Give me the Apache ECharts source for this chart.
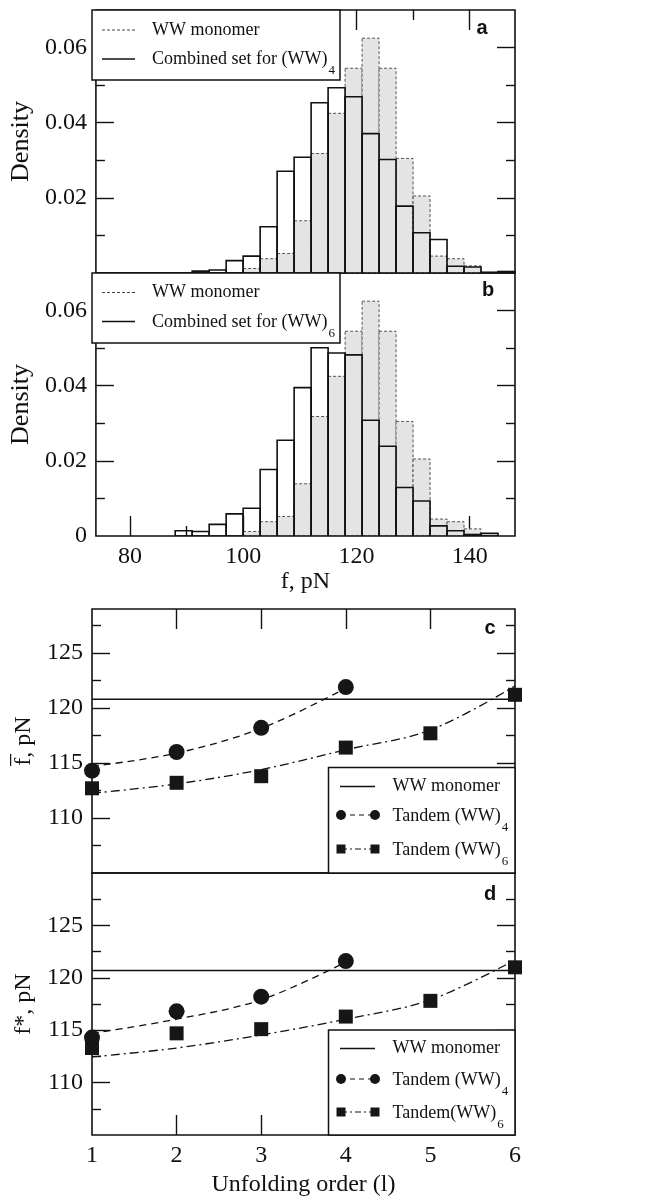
<!DOCTYPE html>
<html><head><meta charset="utf-8">
<script src="https://cdn.jsdelivr.net/npm/echarts@6/dist/echarts.min.js"></script>
<style>html,body{margin:0;padding:0;background:#fff}#main{width:650px;height:1201px}</style>
</head><body><div id="main"></div>
<script>
// ---------- data ----------
const binEdges = [88, 91, 94, 97, 100, 103, 106, 109, 112, 115, 118, 121, 124, 127, 130, 133, 136, 139, 142, 145, 148];
const monomerDensity = [0, 0, 0, 0, 0.0012, 0.0038, 0.0052, 0.0139, 0.0318, 0.0425, 0.0545, 0.0625, 0.0545, 0.0305, 0.0205, 0.0045, 0.0038, 0.0019, 0, 0];
const combinedWW4Density = [0, 0.0005, 0.0008, 0.0033, 0.0045, 0.0123, 0.0271, 0.0308, 0.0453, 0.0493, 0.0469, 0.0371, 0.0302, 0.0178, 0.0107, 0.0089, 0.0018, 0.0016, 0.0002, 0.0004];
const combinedWW6Density = [0.0014, 0.0012, 0.0031, 0.0059, 0.0074, 0.0177, 0.0255, 0.0395, 0.0501, 0.0487, 0.0482, 0.0308, 0.0239, 0.0129, 0.0093, 0.0027, 0.0014, 0.0004, 0.0007, 0];

const forceRange = [74, 148];
const densityRange = [0, 0.07];
const forceTicks = [80, 100, 120, 140];
const forceMinorTicks = [90, 110, 130];
const densityTicks = [0.02, 0.04, 0.06];
const densityLabelsB = [0, 0.02, 0.04, 0.06];
const densityMinorTicks = [0.01, 0.03, 0.05];

const unfoldingOrder = [1, 2, 3, 4, 5, 6];
const orderInnerTicks = [2, 3, 4, 5];
const meanRange = [105, 129];
const peakRange = [105, 130];
const pnTicks = [110, 115, 120, 125];
const pnMinorTicks = [107.5, 112.5, 117.5, 122.5, 127.5];

const meanMonomer = 120.8;
const meanWW4 = [114.3, 116.0, 118.2, 121.9];
const meanWW6 = [112.7, 113.2, 113.8, 116.4, 117.7, 121.2];
const meanFitWW4 = [114.7, 115.9, 118.15, 121.8];
const meanFitWW6 = [112.25, 113.1, 114.4, 116.2, 118.0, 122.0];

const peakMonomer = 120.7;
const peakWW4 = [114.3, 116.8, 118.2, 121.6];
const peakWW6 = [113.3, 114.7, 115.1, 116.3, 117.8, 121.0];
const peakFitWW4 = [114.7, 116.05, 117.9, 121.5];
const peakFitWW6 = [112.45, 113.3, 114.55, 116.05, 117.9, 121.7];

// ---------- helpers ----------
const serif = '"Liberation Serif", "Times New Roman", serif';
const sans = '"Liberation Sans", Arial, sans-serif';
const ink = '#111';

function toBins(vals) { return vals.map((v, i) => [binEdges[i], binEdges[i + 1], v]); }
function toXY(xs, ys) { return ys.map((y, i) => [xs[i], y]); }

function ax(grid, pos, range, ticks, len, labels, extra) {
  const o = {
    type: 'value', gridIndex: grid, position: pos, min: range[0], max: range[1],
    axisLine: { show: false, onZero: false },
    splitLine: { show: false },
    axisTick: ticks ? { show: true, inside: true, length: len, customValues: ticks, lineStyle: { color: ink, width: 1.4 } } : { show: false },
    axisLabel: labels ? { show: true, customValues: labels, fontFamily: serif, fontSize: 24, color: ink, margin: 9 } : { show: false }
  };
  return Object.assign(o, extra || {});
}
const xAxes = [], yAxes = [];
function addX(o) { xAxes.push(o); return xAxes.length - 1; }
function addY(o) { yAxes.push(o); return yAxes.length - 1; }

function yName(text, gap, size) {
  return { name: text, nameLocation: 'middle', nameGap: gap, nameRotate: 90,
    nameTextStyle: { fontFamily: serif, fontSize: size, color: ink } };
}
function xName(text, gap) {
  return { name: text, nameLocation: 'middle', nameGap: gap,
    nameTextStyle: { fontFamily: serif, fontSize: 24, color: ink } };
}

// ---------- grids ----------
const grids = [
  { left: 92, top: 10, width: 423, height: 263 },
  { left: 92, top: 273, width: 423, height: 263 },
  { left: 92, top: 609, width: 423, height: 264 },
  { left: 92, top: 873, width: 423, height: 262 }
].map(g => Object.assign(g, { show: true, borderColor: ink, borderWidth: 1.6, backgroundColor: 'transparent' }));

// panel a
const xa = addX(ax(0, 'bottom', forceRange, null));
addX(ax(0, 'top', forceRange, forceTicks, 20));
addX(ax(0, 'top', forceRange, forceMinorTicks, 10));
const ya = addY(ax(0, 'left', densityRange, densityTicks, 18, densityTicks, yName('Density', 53, 26)));
addY(ax(0, 'left', densityRange, densityMinorTicks, 9));
addY(ax(0, 'right', densityRange, densityTicks, 18));
addY(ax(0, 'right', densityRange, densityMinorTicks, 9));
// panel b
const xb = addX(ax(1, 'bottom', forceRange, forceTicks, 20, forceTicks, xName('f, pN', 34)));
addX(ax(1, 'bottom', forceRange, forceMinorTicks, 10));
const yb = addY(ax(1, 'left', densityRange, densityTicks, 18, densityLabelsB, yName('Density', 53, 26)));
addY(ax(1, 'left', densityRange, densityMinorTicks, 9));
addY(ax(1, 'right', densityRange, densityTicks, 18));
addY(ax(1, 'right', densityRange, densityMinorTicks, 9));
// panel c
const xc = addX(ax(2, 'bottom', [1, 6], null));
addX(ax(2, 'top', [1, 6], orderInnerTicks, 20));
const yc = addY(ax(2, 'left', meanRange, pnTicks, 18, pnTicks, yName('f\u0305, pN', 47, 24)));
addY(ax(2, 'left', meanRange, pnMinorTicks, 9));
addY(ax(2, 'right', meanRange, pnTicks, 18));
addY(ax(2, 'right', meanRange, pnMinorTicks, 9));
// panel d
const xd = addX(ax(3, 'bottom', [1, 6], orderInnerTicks, 20, unfoldingOrder, xName('Unfolding order (l)', 38)));
const yd = addY(ax(3, 'left', peakRange, pnTicks, 18, pnTicks, yName('f*, pN', 47, 24)));
addY(ax(3, 'left', peakRange, pnMinorTicks, 9));
addY(ax(3, 'right', peakRange, pnTicks, 18));
addY(ax(3, 'right', peakRange, pnMinorTicks, 9));

// ---------- series ----------
function histRender(style) {
  return function (params, api) {
    const h = api.value(2);
    if (!h) return null;
    const tl = api.coord([api.value(0), h]);
    const br = api.coord([api.value(1), 0]);
    return { type: 'rect', shape: { x: tl[0], y: tl[1], width: br[0] - tl[0], height: br[1] - tl[1] }, style: style };
  };
}
const monoStyle = { fill: '#e4e4e4', stroke: '#555', lineWidth: 1, lineDash: [3, 2] };
const combStyle = { fill: 'none', stroke: ink, lineWidth: 1.6 };
function hist(xi, yi, vals, style, z) {
  return { type: 'custom', xAxisIndex: xi, yAxisIndex: yi, renderItem: histRender(style),
    data: toBins(vals), encode: { x: [0, 1], y: 2 }, clip: true, z: z, silent: true };
}
function hline(xi, yi, v) {
  return { type: 'line', xAxisIndex: xi, yAxisIndex: yi, symbol: 'none', silent: true, z: 3,
    data: [[unfoldingOrder[0], v], [unfoldingOrder[unfoldingOrder.length - 1], v]],
    lineStyle: { color: ink, width: 1.4 } };
}
function fit(xi, yi, ys, dash) {
  return { type: 'line', xAxisIndex: xi, yAxisIndex: yi, symbol: 'none', smooth: 0.35, silent: true, z: 3,
    data: toXY(unfoldingOrder, ys), lineStyle: { color: ink, width: 1.3, type: dash } };
}
function pts(xi, yi, ys, sym, size) {
  return { type: 'scatter', xAxisIndex: xi, yAxisIndex: yi, symbol: sym, symbolSize: size, silent: true, z: 4,
    data: toXY(unfoldingOrder, ys), itemStyle: { color: '#161616', opacity: 1 } };
}
const dashA = [7, 5];
const dashDot = [9, 4, 2, 4];

const series = [
  hist(xa, ya, monomerDensity, monoStyle, 2),
  hist(xa, ya, combinedWW4Density, combStyle, 3),
  hist(xb, yb, monomerDensity, monoStyle, 2),
  hist(xb, yb, combinedWW6Density, combStyle, 3),
  hline(xc, yc, meanMonomer),
  fit(xc, yc, meanFitWW4, dashA),
  fit(xc, yc, meanFitWW6, dashDot),
  pts(xc, yc, meanWW4, 'circle', 16),
  pts(xc, yc, meanWW6, 'rect', 14),
  hline(xd, yd, peakMonomer),
  fit(xd, yd, peakFitWW4, dashA),
  fit(xd, yd, peakFitWW6, dashDot),
  pts(xd, yd, peakWW4, 'circle', 16),
  pts(xd, yd, peakWW6, 'rect', 14)
];

// ---------- legends & panel letters ----------
const Z = 100;
const lgFont = '18px ' + serif;
const rich = {
  n: { fontFamily: serif, fontSize: 18, lineHeight: 20, verticalAlign: 'top', fill: ink },
  s: { fontFamily: serif, fontSize: 13, lineHeight: 13, padding: [14, 0, 0, 1], verticalAlign: 'top', fill: ink }
};
function box(x, y, w, h) { return { type: 'rect', z: Z, shape: { x, y, width: w, height: h }, style: { fill: '#fff', stroke: ink, lineWidth: 1.5 } }; }
function seg(x1, x2, y, style) { return { type: 'line', z: Z + 1, shape: { x1, y1: y, x2, y2: y }, style: Object.assign({ stroke: ink, lineWidth: 1.4 }, style) }; }
function txt(x, y, t) { return { type: 'text', z: Z + 1, style: { x, y, text: t, font: lgFont, fill: ink, verticalAlign: 'middle' } }; }
function rtxt(x, y, t) { return { type: 'text', z: Z + 1, style: { x, y, text: t, rich: rich, fill: ink, verticalAlign: 'middle' } }; }
function dot(x, y) { return { type: 'circle', z: Z + 2, shape: { cx: x, cy: y, r: 5 }, style: { fill: '#161616' } }; }
function sq(x, y) { return { type: 'rect', z: Z + 2, shape: { x: x - 4.5, y: y - 4.5, width: 9, height: 9 }, style: { fill: '#161616' } }; }
function letter(x, y, t) { return { type: 'text', z: Z, style: { x, y, text: t, font: 'bold 20px ' + sans, fill: ink, align: 'center', verticalAlign: 'middle' } }; }

const graphic = [
  // a
  box(92, 10, 248, 70),
  seg(102, 135, 30, { stroke: '#444', lineWidth: 1, lineDash: [3, 2] }),
  txt(152, 30, 'WW monomer'),
  seg(102, 135, 59, { lineWidth: 1.6 }),
  rtxt(152, 60, '{n|Combined set for (WW)}{s|4}'),
  letter(482, 28, 'a'),
  // b
  box(92, 273, 248, 70),
  seg(102, 135, 292.5, { stroke: '#444', lineWidth: 1, lineDash: [3, 2] }),
  txt(152, 292.5, 'WW monomer'),
  seg(102, 135, 321.5, { lineWidth: 1.6 }),
  rtxt(152, 323, '{n|Combined set for (WW)}{s|6}'),
  letter(488, 290, 'b'),
  // c
  box(328.5, 767.5, 186.5, 105.5),
  seg(340, 375, 786.5, {}),
  txt(392.5, 786.5, 'WW monomer'),
  seg(341, 375, 815, { lineDash: [5, 4], lineWidth: 1.2 }),
  dot(341, 815), dot(375, 815),
  rtxt(392.5, 817, '{n|Tandem (WW)}{s|4}'),
  seg(341, 375, 849, { lineDash: [6, 3, 2, 3], lineWidth: 1.2 }),
  sq(341, 849), sq(375, 849),
  rtxt(392.5, 851, '{n|Tandem (WW)}{s|6}'),
  letter(490, 628, 'c'),
  // d
  box(328.5, 1030, 186.5, 105),
  seg(340, 375, 1048.5, {}),
  txt(392.5, 1048.5, 'WW monomer'),
  seg(341, 375, 1079, { lineDash: [5, 4], lineWidth: 1.2 }),
  dot(341, 1079), dot(375, 1079),
  rtxt(392.5, 1081, '{n|Tandem (WW)}{s|4}'),
  seg(341, 375, 1112, { lineDash: [6, 3, 2, 3], lineWidth: 1.2 }),
  sq(341, 1112), sq(375, 1112),
  rtxt(392.5, 1114, '{n|Tandem(WW)}{s|6}'),
  letter(490, 894, 'd')
];

const chart = echarts.init(document.getElementById('main'), null, { renderer: 'canvas' });
chart.setOption({
  animation: false,
  backgroundColor: '#fff',
  grid: grids,
  xAxis: xAxes,
  yAxis: yAxes,
  series: series,
  graphic: graphic
});
</script>
</body></html>
